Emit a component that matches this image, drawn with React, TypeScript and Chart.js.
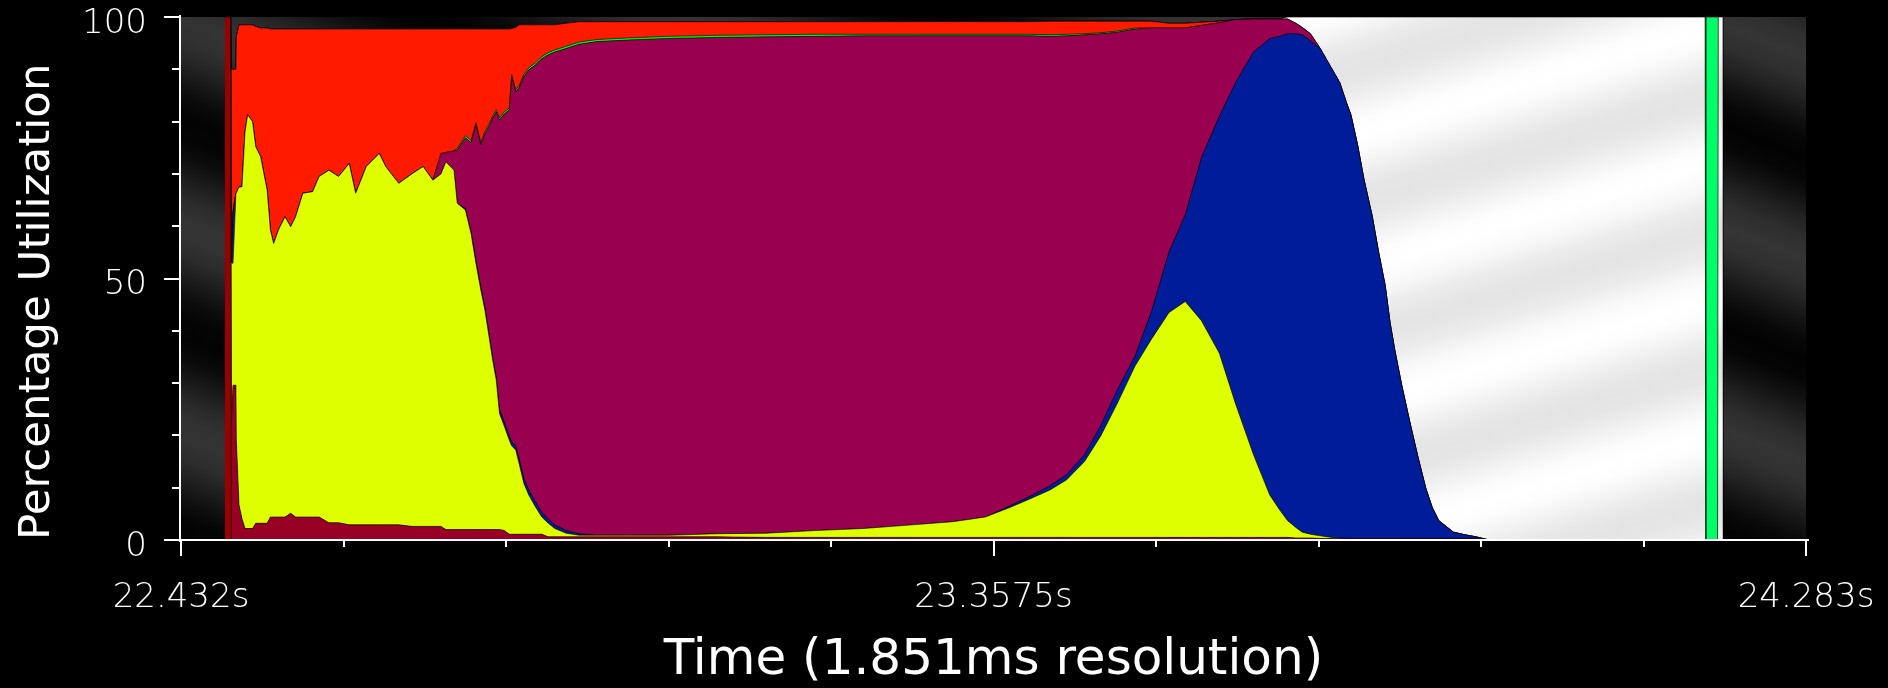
import { useEffect, useRef } from 'react';
import { Chart, registerables } from 'chart.js';

Chart.register(...registerables);

// Sample positions, in 1.851 ms sampling intervals counted from 22.432 s
const SAMPLES = [
  27, 30.5, 31, 32, 33.8, 34, 35.7, 37.5, 39.4, 41,
  44, 46, 49, 51, 53, 55, 57, 60, 64, 67.5,
  70.5, 75, 81, 85, 91, 97, 103.5, 107.5, 114, 122,
  126, 134, 142.5, 149, 155, 160, 163, 168, 170, 175,
  178.5, 181.5, 184.5, 187, 190, 192, 194, 196, 199, 202,
  203.5, 206, 208, 211, 214, 218, 222, 226, 230, 237,
  245, 256, 275, 300, 330, 360, 390, 420, 450, 475,
  495, 510, 522, 535, 545, 556, 566, 576, 587, 597,
  608, 618, 628, 639, 649, 660, 670, 676, 681, 686,
  690, 695, 701, 708, 713, 717, 720, 724, 728, 733,
  737, 741, 744, 747, 751, 756, 761, 766, 770, 774,
  783, 790, 797, 805, 870, 937.9, 938.4, 945.6, 946, 948.9,
  949,
];

// Percentage utilization per category, bottom of the stack first
const DARK_RED = [
  100, 100, 0, 0, 0, 0, 0, 0, 0, 0,
  0, 0, 0, 0, 0, 0, 0, 0, 0, 0,
  0, 0, 0, 0, 0, 0, 0, 0, 0, 0,
  0, 0, 0, 0, 0, 0, 0, 0, 0, 0,
  0, 0, 0, 0, 0, 0, 0, 0, 0, 0,
  0, 0, 0, 0, 0, 0, 0, 0, 0, 0,
  0, 0, 0, 0, 0, 0, 0, 0, 0, 0,
  0, 0, 0, 0, 0, 0, 0, 0, 0, 0,
  0, 0, 0, 0, 0, 0, 0, 0, 0, 0,
  0, 0, 0, 0, 0, 0, 0, 0, 0, 0,
  0, 0, 0, 0, 0, 0, 0, 0, 0, 0,
  0, 0, 0, 0, 0, 0, 0, 0, 0, 0,
  0,
];

const CRIMSON = [
  0, 0, 22, 29.6, 29.6, 19.4, 6.7, 4.1, 2.2, 2.2,
  2.2, 3.2, 3.2, 3.2, 3.2, 4.4, 4.4, 4.4, 4.4, 5.1,
  4.4, 4.4, 4.4, 4.4, 3.3, 3.3, 2.9, 2.9, 2.9, 2.9,
  2.9, 2.9, 2.6, 2.6, 2.6, 2.6, 2.0, 2.0, 2.0, 2.0,
  2.0, 2.0, 2.0, 2.0, 2.0, 2.0, 2.0, 2.0, 1.8, 1.1,
  1.1, 1.1, 1.1, 1.1, 1.1, 1.1, 1.1, 0.6, 0.6, 0.6,
  0.6, 0.6, 0.6, 0.6, 0.6, 0.5, 0.5, 0.5, 0.5, 0.5,
  0.5, 0.5, 0.5, 0.5, 0.5, 0.5, 0.5, 0.5, 0.5, 0.5,
  0.5, 0.5, 0.5, 0.5, 0.5, 0.5, 0.5, 0.5, 0.5, 0.4,
  0.4, 0.4, 0.3, 0.3, 0.3, 0.3, 0.3, 0.3, 0.3, 0.3,
  0.3, 0.3, 0.3, 0.3, 0.3, 0.3, 0.3, 0.3, 0.3, 0.3,
  0.3, 0.3, 0.3, 0, 0, 0, 0, 0, 0, 0,
  0,
];

const YELLOW = [
  0, 0, 31, 23.3, 36.7, 46.9, 60.8, 63.4, 75.8, 79.1,
  77.8, 72.0, 70.1, 66.9, 63.7, 54.9, 52.3, 54.9, 57.4, 54.8,
  57.4, 61.9, 62.2, 65.1, 67.4, 66.2, 69.1, 63.4, 68.5, 71.0,
  68.5, 65.3, 67.5, 68.8, 66.2, 67.4, 70.3, 68.7, 62.4, 61.1,
  56.6, 50.9, 45.8, 42.0, 36.0, 32.0, 28.6, 22.2, 19.9, 18.0,
  16.9, 16.1, 13.6, 9.7, 7.5, 5.3, 3.3, 2.6, 1.6, 0.7,
  0.3, 0.3, 0.3, 0.3, 0.6, 0.8, 1.3, 1.7, 2.4, 3.0,
  3.9, 5.7, 7.3, 9.1, 11.0, 14.5, 19.4, 25.5, 32.7, 37.8,
  43.0, 45.1, 41.4, 35.2, 25.5, 15.8, 8.1, 5.3, 3.2, 2.0,
  1.1, 0.7, 0.5, 0.2, 0.1, 0, 0, 0, 0, 0,
  0, 0, 0, 0, 0, 0, 0, 0, 0, 0,
  0, 0, 0, 0, 0, 0, 0, 0, 0, 0,
  0,
];

const BLUE = [
  0, 0, 0, 9.8, 0, 0, 0, 0, 0, 0,
  0, 0, 0, 0, 0, 0, 0, 0, 0, 0,
  0, 0, 0, 0, 0, 0, 0, 0, 0, 0,
  0, 0, 0, 0, 0, 0, 0, 0, 0, 0.3,
  0.4, 0.5, 0.6, 0.6, 0.6, 0.6, 0.6, 0.7, 0.8, 0.8,
  0.8, 0.8, 0.9, 1.0, 1.0, 1.0, 0.9, 0.8, 0.7, 0.5,
  0.3, 0, 0, 0, 0, 0, 0, 0, 0, 0,
  0, 0.3, 0.5, 0.8, 1.0, 1.3, 2.0, 2.6, 1.9, 5.2,
  11.6, 16.6, 31.3, 45.3, 61.5, 77.0, 87.3, 90.5, 93.1, 94.4,
  95.1, 94.4, 93.2, 89.7, 87.1, 83.5, 80.9, 75.3, 68.6, 61.7,
  54.7, 48.4, 41.3, 35.9, 29.6, 22.5, 15.8, 9.6, 5.9, 3.4,
  1.2, 0.7, 0.3, 0, 0, 0, 0, 0, 0, 0,
  0,
];

const MAROON = [
  0, 0, 0, 0, 0, 0, 0, 0, 0, 0,
  0, 0, 0, 0, 0, 0, 0, 0, 0, 0,
  0, 0, 0, 0, 0, 0, 0, 0, 0, 0,
  0, 0, 0, 0, 0, 3.9, 1.8, 3.7, 10.2, 13.5,
  17.0, 26.0, 27.2, 33.1, 40.8, 46.2, 50.7, 55.4, 59.0, 62.3,
  69.8, 67.7, 70.9, 76.8, 80.3, 83.4, 86.7, 88.8, 90.4, 92.2,
  93.6, 94.4, 94.7, 95.0, 94.9, 94.9, 94.5, 94.2, 93.5, 92.9,
  92.0, 89.9, 88.1, 85.9, 83.9, 80.3, 74.9, 68.5, 62.6, 54.4,
  42.8, 35.7, 25.2, 17.9, 12.0, 6.3, 3.7, 3.3, 2.8, 2.0,
  1.4, 1.3, 0, 0, 0, 0, 0, 0, 0, 0,
  0, 0, 0, 0, 0, 0, 0, 0, 0, 0,
  0, 0, 0, 0, 0, 0, 0, 0, 0, 0,
  0,
];

const GREEN = [
  0, 0, 0, 0, 0, 0, 0, 0, 0, 0,
  0, 0, 0, 0, 0, 0, 0, 0, 0, 0,
  0, 0, 0, 0, 0, 0, 0, 0, 0, 0,
  0, 0, 0, 0, 0, 0, 0, 0, 0.3, 0.4,
  0.4, 0.4, 0.4, 0.4, 0.4, 0.4, 0.4, 0.4, 0.4, 0.4,
  0.4, 0.4, 0.4, 0.4, 0.4, 0.4, 0.4, 0.4, 0.4, 0.4,
  0.4, 0.4, 0.4, 0.4, 0.4, 0.4, 0.4, 0.3, 0.3, 0.3,
  0.3, 0.3, 0.3, 0.3, 0.3, 0.2, 0.2, 0.2, 0.2, 0,
  0, 0, 0, 0, 0, 0, 0, 0, 0, 0,
  0, 0, 0, 0, 0, 0, 0, 0, 0, 0,
  0, 0, 0, 0, 0, 0, 0, 0, 0, 0,
  0, 0, 0, 0, 0, 0, 0, 0, 0, 0,
  0,
];

const RED = [
  0, 0, 37, 27.3, 23.7, 29.9, 31, 31, 20.5, 17.2,
  18.5, 23.0, 24.6, 27.8, 31.0, 38.4, 41.0, 38.4, 35.9, 37.8,
  35.9, 31.4, 31.1, 28.2, 27.0, 28.2, 25.7, 31.4, 26.3, 23.8,
  26.3, 29.5, 27.6, 26.3, 28.9, 23.8, 23.6, 23.3, 22.8, 20.4,
  21.3, 17.9, 21.7, 19.6, 17.9, 16.5, 15.4, 17.0, 15.8, 15.1,
  8.8, 11.9, 11.6, 9.5, 8.2, 7.3, 6.1, 5.3, 4.8, 4.4,
  3.9, 3.4, 3.1, 2.8, 2.6, 2.5, 2.4, 2.4, 2.4, 2.4,
  2.4, 2.4, 2.4, 2.6, 2.5, 2.4, 2.2, 1.9, 1.3, 1.3,
  0.9, 0.9, 0.6, 0.3, 0, 0, 0, 0, 0, 0,
  0, 0, 0, 0, 0, 0, 0, 0, 0, 0,
  0, 0, 0, 0, 0, 0, 0, 0, 0, 0,
  0, 0, 0, 0, 0, 0, 0, 0, 0, 0,
  0,
];

const IDLE = [
  0, 0, 0, 0, 0, 0, 0, 0, 0, 0,
  0, 0, 0, 0, 0, 0, 0, 0, 0, 0,
  0, 0, 0, 0, 0, 0, 0, 0, 0, 0,
  0, 0, 0, 0, 0, 0, 0, 0, 0, 0,
  0, 0, 0, 0, 0, 0, 0, 0, 0, 0,
  0, 0, 0, 0, 0, 0, 0, 0, 0, 0,
  0, 0, 0, 0, 0, 0, 0, 0, 0, 0,
  0, 0, 0, 0, 0, 0, 0, 0, 0, 0,
  0, 0, 0, 0, 0, 0, 0, 0, 0.4, 1.2,
  2.0, 3.2, 6.0, 9.8, 12.5, 16.2, 18.8, 24.4, 31.1, 38.0,
  45.0, 51.3, 58.4, 63.8, 70.1, 77.2, 83.9, 90.1, 93.8, 96.3,
  98.5, 99.0, 99.4, 100, 100, 100, 0, 0, 100, 100,
  0,
];

const MARKER = [
  0, 0, 0, 0, 0, 0, 0, 0, 0, 0,
  0, 0, 0, 0, 0, 0, 0, 0, 0, 0,
  0, 0, 0, 0, 0, 0, 0, 0, 0, 0,
  0, 0, 0, 0, 0, 0, 0, 0, 0, 0,
  0, 0, 0, 0, 0, 0, 0, 0, 0, 0,
  0, 0, 0, 0, 0, 0, 0, 0, 0, 0,
  0, 0, 0, 0, 0, 0, 0, 0, 0, 0,
  0, 0, 0, 0, 0, 0, 0, 0, 0, 0,
  0, 0, 0, 0, 0, 0, 0, 0, 0, 0,
  0, 0, 0, 0, 0, 0, 0, 0, 0, 0,
  0, 0, 0, 0, 0, 0, 0, 0, 0, 0,
  0, 0, 0, 0, 0, 0, 100, 100, 0, 0,
  0,
];

const X_TICK_VALUES = [0, 100, 200, 300, 400, 500, 600, 700, 800, 900, 1000];
const X_TICK_LABELS: Record<number, string> = { 0: '22.432s', 500: '23.3575s', 1000: '24.283s' };
const Y_TICK_VALUES = [0, 10, 20, 30, 40, 50, 60, 70, 80, 90, 100];
const Y_TICK_LABELS: Record<number, string> = { 0: '0', 50: '50', 100: '100' };

type Area = { left: number; top: number; right: number; bottom: number };

// Brushed-metal look: a grey ramp that repeats along a tilted direction
function metal(ctx: CanvasRenderingContext2D, a: Area, angle: number, period: number, phase: number, dark: number, light: number) {
  const nx = Math.cos(angle);
  const ny = Math.sin(angle);
  const ps = [
    [a.left, a.top], [a.right, a.top], [a.left, a.bottom], [a.right, a.bottom],
  ].map(([x, y]) => x * nx + y * ny);
  const p0 = Math.min(...ps);
  const p1 = Math.max(...ps);
  const g = ctx.createLinearGradient(nx * p0, ny * p0, nx * p1, ny * p1);
  const steps = Math.ceil((p1 - p0) / (period / 10));
  for (let k = 0; k <= steps; k++) {
    const p = p0 + ((p1 - p0) * k) / steps;
    const w = 0.5 + 0.5 * Math.cos((2 * Math.PI * (p - phase)) / period);
    const c = Math.round(dark + (light - dark) * w);
    g.addColorStop(k / steps, `rgb(${c},${c},${c})`);
  }
  return g;
}

const backdrop = {
  id: 'backdrop',
  beforeDraw(chart: any) {
    const { ctx, chartArea: a, width, height } = chart;
    ctx.save();
    ctx.fillStyle = '#000';
    ctx.fillRect(0, 0, width, height);
    ctx.fillStyle = metal(ctx, a, 1.95, 190, -46, 2, 52);
    ctx.fillRect(a.left, a.top, a.right - a.left, a.bottom - a.top);
    ctx.restore();
  },
};

const axisMarks = {
  id: 'axisMarks',
  afterDraw(chart: any) {
    const { ctx, chartArea: a, scales } = chart;
    ctx.save();
    ctx.fillStyle = '#fff';
    ctx.fillRect(a.left - 2, a.top - 2, 2, a.bottom - a.top + 4);
    ctx.fillRect(a.left - 2, a.bottom - 1, a.right - a.left + 5, 2);
    for (const v of Y_TICK_VALUES) {
      const py = Math.round(scales.y.getPixelForValue(v));
      const len = Y_TICK_LABELS[v] !== undefined ? 15 : 7;
      ctx.fillRect(a.left - 2 - len, py - 1, len, 2);
    }
    for (const v of X_TICK_VALUES) {
      const px = Math.round(scales.x.getPixelForValue(v));
      const len = X_TICK_LABELS[v] !== undefined ? 15 : 6;
      ctx.fillRect(px - 1, a.bottom + 1, 2, len);
    }
    ctx.restore();
  },
};

const idleFill = (c: any) => {
  const a = c.chart.chartArea;
  if (!a) return '#f0f0f0';
  return metal(c.chart.ctx, a, 1.278, 130, 0, 228, 255);
};

function series(values: number[], color: any, first = false) {
  return {
    data: SAMPLES.map((x, k) => ({ x, y: values[k] })),
    backgroundColor: color,
    borderColor: 'rgba(0,0,0,0.6)',
    borderWidth: 1,
    pointRadius: 0,
    tension: 0,
    fill: first ? 'origin' : '-1',
  };
}

export default function App() {
  const ref = useRef<HTMLCanvasElement>(null);

  useEffect(() => {
    const canvas = ref.current;
    if (!canvas) return;
    const tickFont = { family: 'DejaVu Sans', size: 34, weight: '200' as any };
    const chart = new Chart(canvas, {
      type: 'line',
      data: {
        datasets: [
          series(DARK_RED, '#990000', true),
          series(CRIMSON, '#990026'),
          series(YELLOW, '#DDFF00'),
          series(BLUE, '#001C99'),
          series(MAROON, '#990050'),
          series(GREEN, '#00FF00'),
          series(RED, '#FF1A00'),
          series(IDLE, idleFill),
          series(MARKER, '#00FF66'),
        ] as any,
      },
      options: {
        responsive: false,
        devicePixelRatio: 1,
        animation: false,
        layout: { padding: { top: 17, right: 82, left: 0, bottom: 0 } },
        plugins: { legend: { display: false }, tooltip: { enabled: false } },
        scales: {
          x: {
            type: 'linear',
            min: 0,
            max: 1000,
            afterFit: (s: any) => {
              s.height = 148;
              s.paddingLeft = 0;
              s.paddingRight = 0;
            },
            grid: { display: true, drawOnChartArea: false, drawTicks: true, tickLength: 15, color: 'rgba(0,0,0,0)' },
            border: { display: false },
            ticks: {
              stepSize: 100,
              autoSkip: false,
              maxRotation: 0,
              padding: 23,
              color: '#fff',
              font: tickFont,
              callback: (v: any) => X_TICK_LABELS[v as number] ?? '',
            },
            title: {
              display: true,
              text: 'Time (1.851ms resolution)',
              color: '#fff',
              font: { family: 'DejaVu Sans', size: 50, lineHeight: 1 },
              padding: { top: 0, bottom: 2 },
            },
          },
          y: {
            type: 'linear',
            min: 0,
            max: 100,
            stacked: true,
            afterFit: (s: any) => {
              s.width = 181;
              s.paddingTop = 0;
              s.paddingBottom = 0;
            },
            grid: { display: true, drawOnChartArea: false, drawTicks: true, tickLength: 15, color: 'rgba(0,0,0,0)' },
            border: { display: false },
            ticks: {
              stepSize: 10,
              autoSkip: false,
              padding: 19,
              labelOffset: 7,
              color: '#fff',
              font: tickFont,
              callback: (v: any) => Y_TICK_LABELS[v as number] ?? '',
            },
            title: {
              display: true,
              text: 'Percentage Utilization',
              align: 'start',
              color: '#fff',
              font: { family: 'DejaVu Sans', size: 43.5, lineHeight: 1.2 },
              padding: { top: 12, bottom: 0 },
            },
          },
        },
      } as any,
      plugins: [backdrop, axisMarks],
    });
    return () => chart.destroy();
  }, []);

  return (
    <div style={{ position: 'fixed', left: 0, top: 0, width: 1888, height: 688, background: '#000' }}>
      <canvas ref={ref} width={1888} height={688} style={{ display: 'block', width: '1888px', height: '688px' }} />
    </div>
  );
}
